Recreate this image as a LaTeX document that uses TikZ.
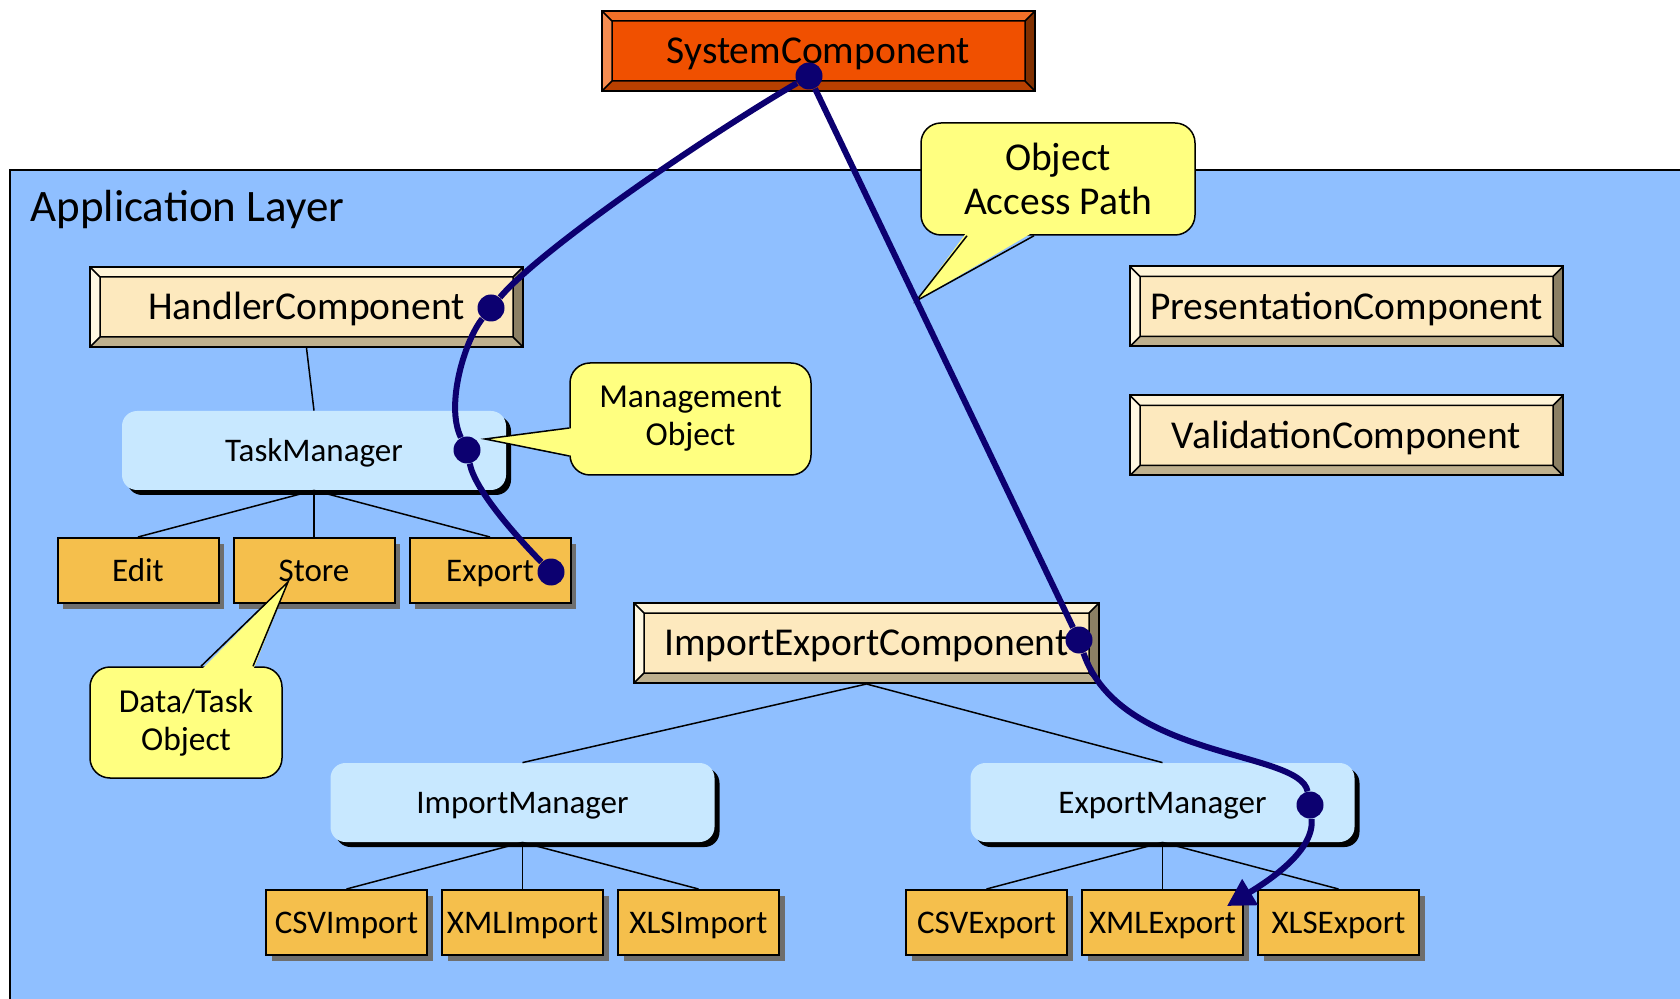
\documentclass[tikz,border=0pt]{standalone}
\usepackage{fontspec}
\setmainfont{Carlito}
\usetikzlibrary{arrows.meta,shadows,calc}

\definecolor{layerblue}{RGB}{143,191,255}
\definecolor{mgrblue}{RGB}{200,232,255}
\definecolor{leaforange}{RGB}{245,191,76}
\definecolor{noteyellow}{RGB}{255,255,128}
\definecolor{pathnavy}{RGB}{12,0,112}
% bevel colours: face, top, left, right, bottom
\definecolor{sysface}{RGB}{240,80,0}
\definecolor{systop}{RGB}{242,112,40}
\definecolor{sysleft}{RGB}{245,140,80}
\definecolor{sysright}{RGB}{128,48,0}
\definecolor{sysbottom}{RGB}{184,64,0}
\definecolor{creamface}{RGB}{253,233,190}
\definecolor{creamtop}{RGB}{255,244,216}
\definecolor{creamleft}{RGB}{255,248,226}
\definecolor{creamright}{RGB}{140,128,100}
\definecolor{creambottom}{RGB}{190,176,142}

\begin{document}
\begin{tikzpicture}
[
    x=0.5pt, y=-0.5pt,
    level distance=60pt, sibling distance=88pt,
    edge from parent path={(\tikzparentnode.south) -- (\tikzchildnode.north)},
    edge from parent/.style={draw, line width=0.75pt},
    link/.style={line width=0.75pt},
    bevelbox/.style={draw, line width=1pt, fill=#1face, inner sep=0pt,
        minimum width=216.5pt, minimum height=40pt,
        font=\fontsize{19.75pt}{23pt}\selectfont, text height=12.7pt, text depth=0pt,
        path picture={
            \coordinate (bnw) at (path picture bounding box.north west);
            \coordinate (bne) at (path picture bounding box.north east);
            \coordinate (bse) at (path picture bounding box.south east);
            \coordinate (bsw) at (path picture bounding box.south west);
            \coordinate (inw) at ([shift={(5pt,-5pt)}]bnw);
            \coordinate (ine) at ([shift={(-5pt,-5pt)}]bne);
            \coordinate (ise) at ([shift={(-5pt,5pt)}]bse);
            \coordinate (isw) at ([shift={(5pt,5pt)}]bsw);
            \fill[#1top] (bnw) -- (bne) -- (ine) -- (inw) -- cycle;
            \fill[#1left] (bnw) -- (inw) -- (isw) -- (bsw) -- cycle;
            \fill[#1right] (bne) -- (bse) -- (ise) -- (ine) -- cycle;
            \fill[#1bottom] (bsw) -- (isw) -- (ise) -- (bse) -- cycle;
            \draw[line width=0.75pt] (inw) rectangle (ise)
                (bnw) -- (inw) (bne) -- (ine) (bse) -- (ise) (bsw) -- (isw);
        }},
    manager/.style={fill=mgrblue, rounded corners=7.5pt, inner sep=0pt,
        minimum width=192pt, minimum height=39.5pt,
        font=\fontsize{16.5pt}{19pt}\selectfont, text height=10.6pt, text depth=0pt,
        drop shadow={opacity=1, fill=black, shadow xshift=2.5pt, shadow yshift=-2.5pt}},
    leaf/.style={draw, line width=1pt, fill=leaforange, inner sep=0pt,
        minimum width=80.5pt, minimum height=32.5pt,
        font=\fontsize{16.5pt}{19pt}\selectfont, text height=10.6pt, text depth=0pt,
        drop shadow={opacity=1, fill=black!57, shadow xshift=2.75pt, shadow yshift=-2.75pt}},
    note/.style={draw, line width=0.75pt, fill=noteyellow, rounded corners=10pt,
        align=center, inner sep=0pt, font=\fontsize{16.75pt}{19pt}\selectfont},
    noteline/.style={line width=0.75pt, line join=miter},
    dot/.style={circle, fill=pathnavy, inner sep=0pt, minimum size=13.5pt},
    accesspath/.style={draw=pathnavy, line width=3pt},
]
\useasboundingbox (0,0) rectangle (1680,999);
\fill[white] (0,0) rectangle (1680,999);

% application layer panel
\fill[layerblue] (10,170) rectangle (1700,1020);
\draw[line width=1pt] (10,1020) |- (1700,170);
\node[anchor=base west, inner sep=0pt, font=\fontsize{22.5pt}{26pt}\selectfont]
    (layer) at (30,222) {Application Layer};

% components
\node[bevelbox=sys] (system) at (818.5,51) {SystemComponent};
\node[bevelbox=cream] (handler) at (306.5,307) {HandlerComponent};
\node[bevelbox=cream] (presentation) at (1346.5,306.5) {PresentationComponent};
\node[bevelbox=cream] (validation) at (1346.5,435.5) {ValidationComponent};
\node[bevelbox=cream, minimum width=232.5pt] (importexport) at (866.5,643) {ImportExportComponent};

% managers with their objects
\node[manager] (taskmgr) at (314,450.5) {TaskManager}
    child {node[leaf] (edit) {Edit}}
    child {node[leaf] (store) {Store}}
    child {node[leaf] (export) {Export}};
\node[manager] (importmgr) at (522.5,802.5) {ImportManager}
    child {node[leaf] (csvimport) {CSVImport}}
    child {node[leaf] (xmlimport) {XMLImport}}
    child {node[leaf] (xlsimport) {XLSImport}};
\node[manager] (exportmgr) at (1162.5,802.5) {ExportManager}
    child {node[leaf] (csvexport) {CSVExport}}
    child {node[leaf] (xmlexport) {XMLExport}}
    child {node[leaf] (xlsexport) {XLSExport}};

\draw[link] (handler.south) -- (taskmgr.north);
\draw[link] (importexport.south) -- (importmgr.north);
\draw[link] (importexport.south) -- (exportmgr.north);

% callouts
\node[note, minimum width=120.5pt, minimum height=56pt] (mgmtnote) at (690.5,419) {Management\\Object};
\node[note, minimum width=96pt, minimum height=55.5pt] (datanote) at (186,722.5) {Data/Task\\Object};
\node[note, minimum width=137pt, minimum height=56pt, font=\fontsize{19.75pt}{22pt}\selectfont]
    (accessnote) at (1058,179) {Object\\Access Path};
\coordinate (mgmttip) at (485,439);
\coordinate (datatip) at (288,582);
\coordinate (accesstip) at (916,301);

\fill[noteyellow] (mgmttip) -- ($(mgmtnote.west)+(4,9)$) -- ($(mgmtnote.west)+(4,37)$) -- cycle;
\draw[noteline] ($(mgmtnote.west)+(0,9)$) -- (mgmttip) -- ($(mgmtnote.west)+(0,37)$);
\fill[noteyellow] (datatip) -- ($(datanote.north)+(15,4)$) -- ($(datanote.north)+(67,4)$) -- cycle;
\draw[noteline] ($(datanote.north)+(15,0)$) -- (datatip) -- ($(datanote.north)+(67,0)$);
\fill[noteyellow] (accesstip) -- ($(accessnote.south)+(-91,-4)$) -- ($(accessnote.south)+(-24,-4)$) -- cycle;
\draw[noteline] ($(accessnote.south)+(-91,0)$) -- (accesstip) -- ($(accessnote.south)+(-24,0)$);

% object access paths
\node[dot] (sysdot) at (809,76) {};
\node[dot] (handot) at (491,308) {};
\node[dot] (taskdot) at (467,450) {};
\node[dot] (expdot) at (551,572) {};
\node[dot] (iedot) at (1079,640) {};
\node[dot] (emdot) at (1310,805) {};
\coordinate (xmltip) at (1227,906);

\draw[accesspath] (sysdot) .. controls (700,140) and (540,250) .. (handot)
    .. controls (465,340) and (445,405) .. (taskdot)
    .. controls (475,490) and (515,535) .. (expdot);
\draw[accesspath, -{Triangle[length=13.5pt, width=14.5pt]}] (sysdot) -- (iedot)
    .. controls (1120,760) and (1300,750) .. (emdot)
    .. controls (1315,850) and (1270,880) .. (xmltip);
\end{tikzpicture}
\end{document}
